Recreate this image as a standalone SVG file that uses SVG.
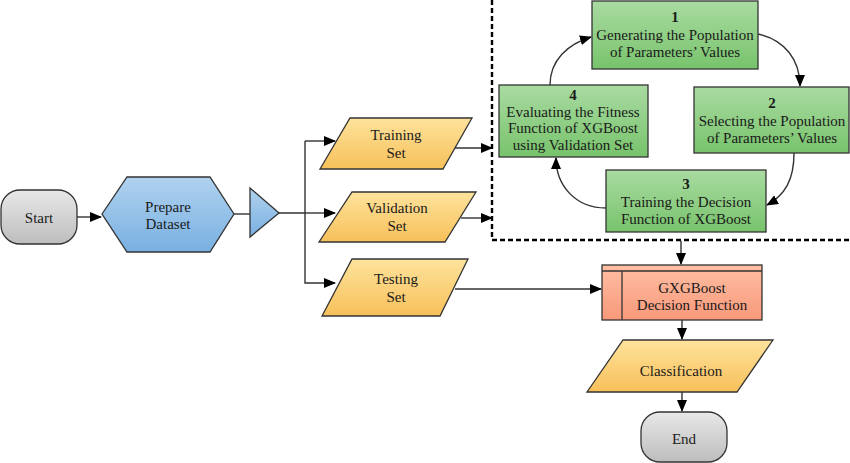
<svg xmlns="http://www.w3.org/2000/svg" width="850" height="463" viewBox="0 0 850 463">
<defs>
<linearGradient id="gGray" x1="0" y1="0" x2="0" y2="1"><stop offset="0" stop-color="#e8e8e8"/><stop offset="1" stop-color="#bdbdbd"/></linearGradient>
<linearGradient id="gBlue" x1="0" y1="0" x2="0" y2="1"><stop offset="0" stop-color="#b0d2ee"/><stop offset="1" stop-color="#79b0e2"/></linearGradient>
<linearGradient id="gYel" x1="0" y1="0" x2="0" y2="1"><stop offset="0" stop-color="#fee39c"/><stop offset="1" stop-color="#f7c05a"/></linearGradient>
<linearGradient id="gGreen" x1="0" y1="0" x2="0" y2="1"><stop offset="0" stop-color="#a9dba1"/><stop offset="1" stop-color="#78c36c"/></linearGradient>
<linearGradient id="gSal" x1="0" y1="0" x2="0" y2="1"><stop offset="0" stop-color="#ffbfa3"/><stop offset="1" stop-color="#f8987a"/></linearGradient>
<marker id="ah" markerUnits="userSpaceOnUse" markerWidth="12" markerHeight="10" refX="11" refY="5" orient="auto" viewBox="0 0 12 10"><path d="M0,0 L12,5 L0,10 z" fill="#000"/></marker>
</defs>
<style>
.s{stroke:#333;stroke-width:1.3}
.t{font-family:"Liberation Serif","Times New Roman",serif;font-size:15px;fill:#1a1a1a;text-anchor:middle}
.b{font-weight:bold}
.c{fill:none;stroke:#333;stroke-width:1.4}
.d{fill:none;stroke:#000;stroke-width:2.4;stroke-dasharray:5,3}
</style>
<g id="connectors">
<path class="c" d="M77,217 L101,217" marker-end="url(#ah)"/>
<path class="c" d="M234,214 L250,214"/>
<path class="c" d="M279,213 L305,213 L305,141"/>
<path class="c" d="M305,141 L335,141" marker-end="url(#ah)"/>
<path class="c" d="M305,213 L335,213" marker-end="url(#ah)"/>
<path class="c" d="M305,213 L305,283 L335,283" marker-end="url(#ah)"/>
<path class="c" d="M455,148 L492,148" marker-end="url(#ah)"/>
<path class="c" d="M461,218 L492,218" marker-end="url(#ah)"/>
<path class="c" d="M455,289 L601,289" marker-end="url(#ah)"/>
<path class="c" d="M758,34 C785,40 800,60 800,86" marker-end="url(#ah)"/>
<path class="c" d="M794,153 C794,180 785,195 767,205" marker-end="url(#ah)"/>
<path class="c" d="M606,208 C575,208 556,185 556,158" marker-end="url(#ah)"/>
<path class="c" d="M550,85 C550,60 568,44 591,37" marker-end="url(#ah)"/>
<path class="c" d="M681,241 L681,264" marker-end="url(#ah)"/>
<path class="c" d="M682,320 L682,339" marker-end="url(#ah)"/>
<path class="c" d="M682,392 L682,411" marker-end="url(#ah)"/>
<path class="d" d="M492,0 L492,240 L850,240"/>
</g>
<g id="start">
<rect class="s" x="1" y="190" width="76" height="54" rx="19" fill="url(#gGray)"/>
<text class="t" x="39" y="223">Start</text>
</g>
<g id="prepare">
<polygon class="s" points="102,214 127,177 210,177 234,214 210,252 127,252" fill="url(#gBlue)"/>
<text class="t" x="168" y="212">Prepare</text>
<text class="t" x="168" y="229">Dataset</text>
</g>
<g id="split">
<polygon class="s" points="250,188 279,213 250,237" fill="url(#gBlue)"/>
</g>
<g id="training">
<polygon class="s" points="350,118 472,118 443,169 320,169" fill="url(#gYel)"/>
<text class="t" x="396" y="140">Training</text>
<text class="t" x="396" y="158">Set</text>
</g>
<g id="validation">
<polygon class="s" points="352,192 476,192 445,242 319,242" fill="url(#gYel)"/>
<text class="t" x="397" y="213">Validation</text>
<text class="t" x="397" y="231">Set</text>
</g>
<g id="testing">
<polygon class="s" points="352,259 468,259 440,316 322,316" fill="url(#gYel)"/>
<text class="t" x="396" y="284">Testing</text>
<text class="t" x="396" y="302">Set</text>
</g>
<g id="step1">
<rect class="s" x="592" y="1" width="166" height="68" fill="url(#gGreen)"/>
<text class="t b" x="675" y="22">1</text>
<text class="t" x="675" y="40">Generating the Population</text>
<text class="t" x="675" y="57">of Parameters’ Values</text>
</g>
<g id="step2">
<rect class="s" x="694" y="87" width="155" height="66" fill="url(#gGreen)"/>
<text class="t b" x="772" y="108">2</text>
<text class="t" x="772" y="126">Selecting the Population</text>
<text class="t" x="772" y="143">of Parameters’ Values</text>
</g>
<g id="step3">
<rect class="s" x="606" y="170" width="160" height="62" fill="url(#gGreen)"/>
<text class="t b" x="686" y="189">3</text>
<text class="t" x="686" y="207">Training the Decision</text>
<text class="t" x="686" y="224">Function of XGBoost</text>
</g>
<g id="step4">
<rect class="s" x="499" y="85" width="149" height="72" fill="url(#gGreen)"/>
<text class="t b" x="573" y="100">4</text>
<text class="t" x="573" y="117">Evaluating the Fitness</text>
<text class="t" x="573" y="133">Function of XGBoost</text>
<text class="t" x="573" y="150">using Validation Set</text>
</g>
<g id="gxgboost">
<rect class="s" x="602" y="265" width="160" height="55" fill="url(#gSal)"/>
<line class="s" x1="602" y1="271" x2="762" y2="271"/>
<line class="s" x1="622" y1="271" x2="622" y2="320"/>
<text class="t" x="692" y="293">GXGBoost</text>
<text class="t" x="692" y="310">Decision Function</text>
</g>
<g id="classification">
<polygon class="s" points="623,340 773,340 737,392 587,392" fill="url(#gYel)"/>
<text class="t" x="681" y="376">Classification</text>
</g>
<g id="end">
<rect class="s" x="641" y="412" width="86" height="50" rx="19" fill="url(#gGray)"/>
<text class="t" x="684" y="444">End</text>
</g>
</svg>
